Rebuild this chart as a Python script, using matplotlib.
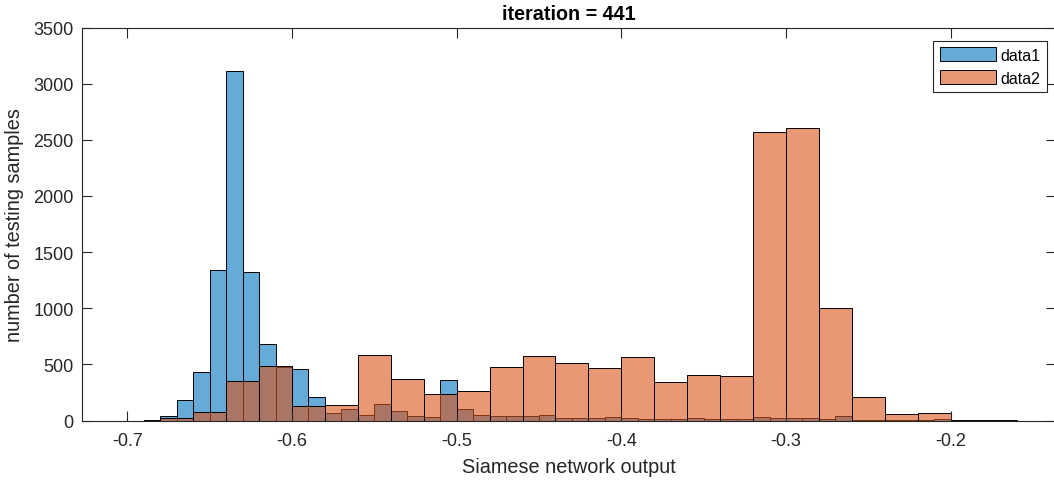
import numpy as np
import matplotlib
matplotlib.use('Agg')
import matplotlib.pyplot as plt

plt.rcParams['font.family'] = ['Liberation Sans', 'DejaVu Sans']

# histogram counts, data1 binned at 0.01, data2 at 0.02
data1_start, data1_width = -0.69, 0.01
data1_counts = [8, 40, 186, 436, 1343, 3117, 1324, 677, 480, 455,
                205, 66, 104, 45, 149, 84, 42, 30, 363, 101,
                51, 36, 42, 36, 45, 24, 21, 18, 27, 18,
                9, 9, 13, 18, 10, 10, 10, 33, 18, 18,
                18, 10, 39, 8, 4, 3, 3, 4, 10]

data2_start, data2_width = -0.68, 0.02
data2_counts = [20, 80, 355, 482, 128, 137, 580, 366, 235, 259,
                476, 571, 510, 470, 562, 342, 401, 396, 2573, 2608,
                1003, 211, 60, 67, 8, 8]

xticks = [-0.7, -0.6, -0.5, -0.4, -0.3, -0.2]
yticks = [0, 500, 1000, 1500, 2000, 2500, 3000, 3500]

blue = (0.0, 0.447, 0.741, 0.6)
orange = (0.85, 0.325, 0.098, 0.6)
axcol = (0.15, 0.15, 0.15)

edges1 = data1_start + data1_width * np.arange(len(data1_counts))
edges2 = data2_start + data2_width * np.arange(len(data2_counts))

fig = plt.figure(figsize=(10.54, 4.81), dpi=100)
ax = fig.add_axes([82 / 1054, 1 - 421.5 / 481, (1056 - 82) / 1054, (421.5 - 28.5) / 481])

ax.bar(edges1, data1_counts, width=data1_width, align='edge',
       facecolor=blue, edgecolor='k', linewidth=0.7, label='data1')
ax.bar(edges2, data2_counts, width=data2_width, align='edge',
       facecolor=orange, edgecolor='k', linewidth=0.7, label='data2')

ax.set_xlim(-0.7 - 45.3 / 1647, -0.2 + (1056 - 950.7) / 1647)
ax.set_ylim(0, 3500)
ax.set_xticks(xticks)
ax.set_xticklabels([f'{t:g}' for t in xticks])
ax.set_yticks(yticks)

for s in ax.spines.values():
    s.set_color(axcol)
    s.set_linewidth(0.8)
ax.tick_params(direction='in', top=True, right=True, length=7, width=0.8,
               color=axcol, labelcolor=axcol, labelsize=13)
ax.tick_params(axis='x', pad=8)
ax.tick_params(axis='y', pad=6)

ax.set_title('iteration = 441', fontsize=14.2, fontweight='bold', color='k', pad=6)
ax.set_xlabel('Siamese network output', fontsize=14.3, color=axcol, labelpad=6)
ax.set_ylabel('number of testing samples', fontsize=14.3, color=axcol, labelpad=7)

leg = ax.legend(loc='upper right', bbox_to_anchor=(1046.7 / 1054, 1 - 41.7 / 481),
                bbox_transform=fig.transFigure, borderaxespad=0, fontsize=11.5,
                fancybox=False, framealpha=1, edgecolor=axcol,
                handlelength=3.5, handleheight=1.0, handletextpad=0.3,
                borderpad=0.4, labelspacing=0.45)
leg.get_frame().set_linewidth(0.8)

fig.savefig('out.png', dpi=100)
